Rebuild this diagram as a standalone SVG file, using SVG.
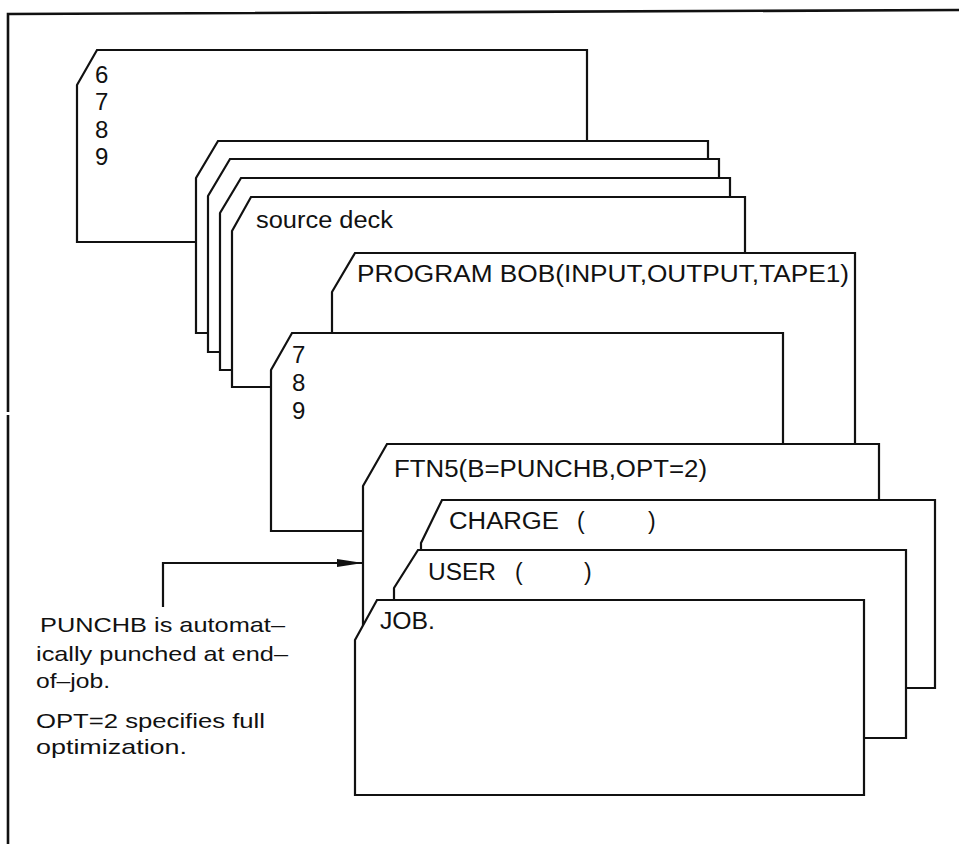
<svg xmlns="http://www.w3.org/2000/svg" width="959" height="844" viewBox="0 0 959 844">
<style>
.card{fill:#fff;stroke:#111;stroke-width:2.2;stroke-linejoin:miter}
.frame{fill:none;stroke:#111;stroke-width:2.6}
.t{font-family:"Liberation Sans",Arial,sans-serif;font-size:23px;fill:#111}
.d{font-family:"Liberation Sans",Arial,sans-serif;font-size:24px;fill:#111}
.n{font-family:"Liberation Sans",Arial,sans-serif;font-size:21px;fill:#111}
.conn{fill:none;stroke:#111;stroke-width:2.2}
</style>
<defs>
<marker id="ah" viewBox="0 0 26 10" refX="26" refY="5" markerWidth="26" markerHeight="10" markerUnits="userSpaceOnUse" orient="auto">
<path d="M0,1 L26,5 L0,9 Z" fill="#111"/>
</marker>
</defs>
<rect width="959" height="844" fill="#fff"/>
<g id="frame">
<polyline class="frame" points="8,412 8,14 959,10"/>
<line class="frame" x1="8" y1="415" x2="8" y2="844"/>
</g>
<g id="card-6789">
<path class="card" d="M97,50 L587,50 L587,242 L77,242 L77,85 Z"/>
<text class="d" x="95" y="83">6</text>
<text class="d" x="95" y="110">7</text>
<text class="d" x="95" y="138">8</text>
<text class="d" x="95" y="165">9</text>
</g>
<g id="deck-card-1">
<path class="card" d="M218,141 L708,141 L708,333 L196,333 L196,178 Z"/>
</g>
<g id="deck-card-2">
<path class="card" d="M230,159 L719,159 L719,352 L208,352 L208,196 Z"/>
</g>
<g id="deck-card-3">
<path class="card" d="M241,178 L730,178 L730,370 L220,370 L220,213 Z"/>
</g>
<g id="source-deck">
<path class="card" d="M251,197 L745,197 L745,387 L232,387 L232,231 Z"/>
<text class="t" x="256" y="228" textLength="137" lengthAdjust="spacingAndGlyphs">source deck</text>
</g>
<g id="program-card">
<path class="card" d="M355,253 L855,253 L855,480 L332,480 L332,292 Z"/>
<text class="t" x="357" y="282" textLength="492" lengthAdjust="spacingAndGlyphs">PROGRAM BOB(INPUT,OUTPUT,TAPE1)</text>
</g>
<g id="card-789">
<path class="card" d="M292,333 L783,333 L783,531 L271,531 L271,370 Z"/>
<text class="d" x="292" y="363">7</text>
<text class="d" x="292" y="391">8</text>
<text class="d" x="292" y="419">9</text>
</g>
<g id="ftn5-card">
<path class="card" d="M387,444 L879,444 L879,700 L363,700 L363,486 Z"/>
<text class="t" x="394" y="477" textLength="313" lengthAdjust="spacingAndGlyphs">FTN5(B=PUNCHB,OPT=2)</text>
</g>
<g id="charge-card">
<path class="card" d="M442,500 L935,500 L935,688 L421,688 L421,543 Z"/>
<text class="t" x="449" y="529"><tspan textLength="110" lengthAdjust="spacingAndGlyphs">CHARGE</tspan><tspan x="577">(</tspan><tspan x="648">)</tspan></text>
</g>
<g id="user-card">
<path class="card" d="M418,550 L906,550 L906,738 L394,738 L394,588 Z"/>
<text class="t" x="428" y="580"><tspan textLength="68" lengthAdjust="spacingAndGlyphs">USER</tspan><tspan x="515">(</tspan><tspan x="584">)</tspan></text>
</g>
<g id="job-card">
<path class="card" d="M377,600 L864,600 L864,795 L355,795 L355,640 Z"/>
<text class="t" x="380" y="629" textLength="55" lengthAdjust="spacingAndGlyphs">JOB.</text>
</g>
<g id="connectors">
<polyline class="conn" points="163,607 163,563 363,563" marker-end="url(#ah)"/>
</g>
<g id="note">
<text class="n" x="40" y="632" textLength="245" lengthAdjust="spacingAndGlyphs">PUNCHB is automat–</text>
<text class="n" x="36" y="661" textLength="252" lengthAdjust="spacingAndGlyphs">ically punched at end–</text>
<text class="n" x="36" y="688" textLength="74" lengthAdjust="spacingAndGlyphs">of–job.</text>
<text class="n" x="36" y="728" textLength="229" lengthAdjust="spacingAndGlyphs">OPT=2 specifies full</text>
<text class="n" x="36" y="754" textLength="151" lengthAdjust="spacingAndGlyphs">optimization.</text>
</g>
</svg>
